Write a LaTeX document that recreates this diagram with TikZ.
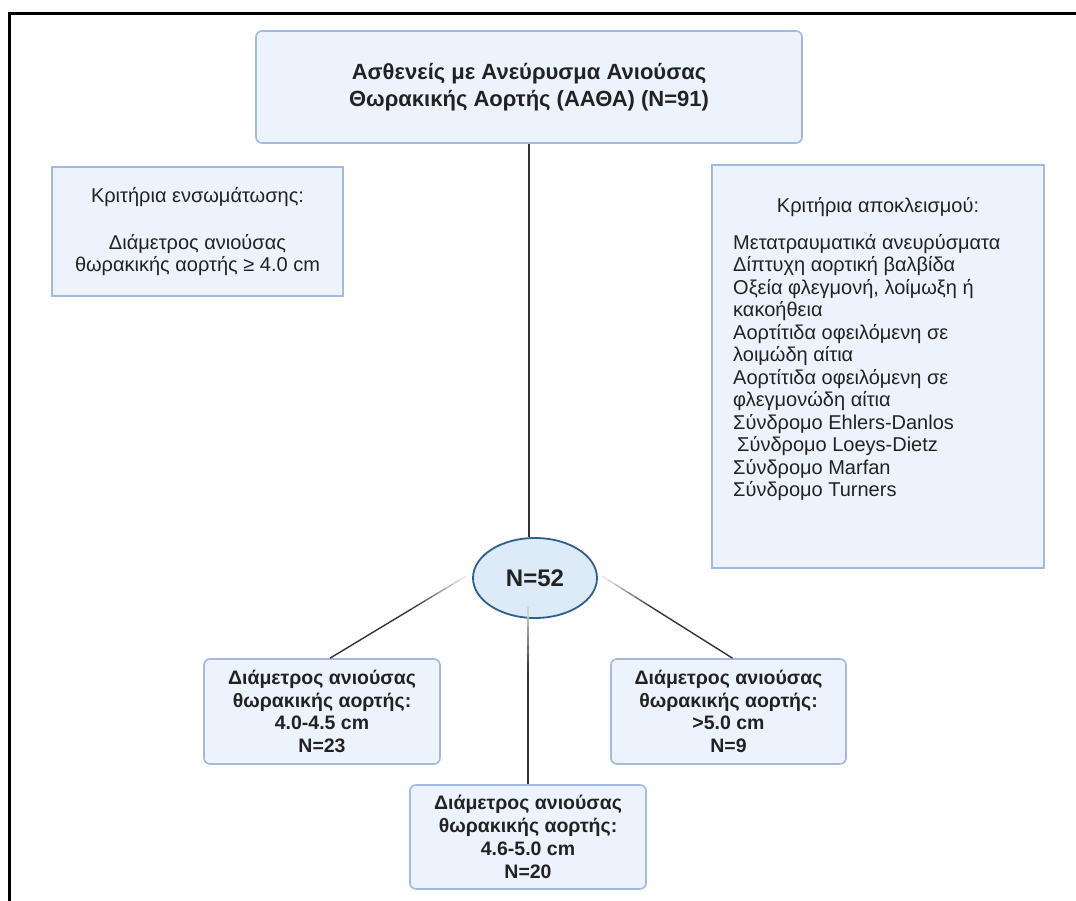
\documentclass[tikz,border=0pt]{standalone}
\usepackage{fontspec}
\setmainfont{Liberation Sans}
\usetikzlibrary{calc,shapes.geometric}

\definecolor{boxfill}{HTML}{EDF3FC}
\definecolor{boxline}{HTML}{A3B8E2}
\definecolor{ovalfill}{HTML}{DDEAF8}
\definecolor{ovalline}{HTML}{2F5F92}
\definecolor{txt}{HTML}{222222}

% line that starts pale at its first end and darkens
\newcommand{\fadelink}[2]{%
  \foreach \k/\c in {0/10,1/18,2/28,3/38,4/48,5/58,6/68,7/76}
    \draw[link, black!\c] ($(#1)!{\k*0.05}!(#2)$) -- ($(#1)!{(\k+1)*0.05}!(#2)$);
  \draw[link] ($(#1)!0.4!(#2)$) -- (#2);
}

\begin{document}
\begin{tikzpicture}[x=1pt, y=-1pt,
    box/.style={draw=boxline, fill=boxfill, line width=1.6pt, text=txt, align=center, inner sep=0pt},
    roundbox/.style={box, rounded corners=6pt},
    boldtext/.style={font=\fontsize{19.5}{22.8}\selectfont\bfseries},
    plaintext/.style={font=\fontsize{20}{22.5}\selectfont},
    link/.style={line width=1.4pt, black!80}]
        \useasboundingbox (0,0) rectangle (1076,901);

        % Frame
        \draw[line width=3pt] (9.5,901) -- (9.5,13.5) -- (1076,13.5);

        % Patients
        \node[roundbox, minimum width=546pt, minimum height=112pt,
              font=\fontsize{22}{27}\selectfont\bfseries] (top) at (529,87)
            {Ασθενείς με Ανεύρυσμα Ανιούσας\\Θωρακικής Αορτής (ΑΑΘΑ) (N=91)};

        % Inclusion / exclusion
        \node[box, plaintext, minimum width=291pt, minimum height=129pt] (incl) at (197.5,231.5)
            {Κριτήρια ενσωμάτωσης:\\[24.5pt]Διάμετρος ανιούσας\\θωρακικής αορτής ≥ 4.0 cm};
        \node[box, minimum width=332pt, minimum height=403pt] (excl) at (878,366.5) {};
        \node[plaintext, text=txt] (exclhead) at (878,207) {Κριτήρια αποκλεισμού:};
        \node[plaintext, text=txt, align=left, anchor=north west, inner sep=0pt] (excllist) at (733,234)
            {Μετατραυματικά ανευρύσματα\\
             Δίπτυχη αορτική βαλβίδα\\
             Οξεία φλεγμονή, λοίμωξη ή\\
             κακοήθεια\\
             Αορτίτιδα οφειλόμενη σε\\
             λοιμώδη αίτια\\
             Αορτίτιδα οφειλόμενη σε\\
             φλεγμονώδη αίτια\\
             Σύνδρομο Ehlers-Danlos\\
             \hspace{4pt}Σύνδρομο Loeys-Dietz\\
             Σύνδρομο Marfan\\
             Σύνδρομο Turners};

        % Included patients
        \node[ellipse, draw=ovalline, fill=ovalfill, line width=1.8pt, text=txt,
              minimum width=124pt, minimum height=80pt, inner sep=0pt,
              font=\fontsize{24}{28}\selectfont\bfseries] (n52) at (535,578) {N=52};

        % Diameter groups
        \node[roundbox, boldtext, minimum width=236pt, minimum height=105pt] (dlow) at (322,711.5)
            {Διάμετρος ανιούσας\\θωρακικής αορτής:\\4.0-4.5 cm\\N=23};
        \node[roundbox, boldtext, minimum width=236pt, minimum height=104pt] (dmid) at (528,837)
            {Διάμετρος ανιούσας\\θωρακικής αορτής:\\4.6-5.0 cm\\N=20};
        \node[roundbox, boldtext, minimum width=235pt, minimum height=105pt] (dhigh) at (728.5,711.5)
            {Διάμετρος ανιούσας\\θωρακικής αορτής:\\>5.0 cm\\N=9};

        % Connectors
        \draw[link] (top.south) -- (top.south |- n52.north);
        \coordinate (lstart) at ($(n52.west)+(-6,-2)$);
        \coordinate (rstart) at ($(n52.east)+(4,-2)$);
        \coordinate (mstart) at ($(n52.center)+(-7,20)$);
        \fadelink{lstart}{$(dlow.north)+(8,0)$}
        \fadelink{rstart}{$(dhigh.north)+(4,0)$}
        \fadelink{mstart}{dmid.north}
    \end{tikzpicture}
\end{document}
